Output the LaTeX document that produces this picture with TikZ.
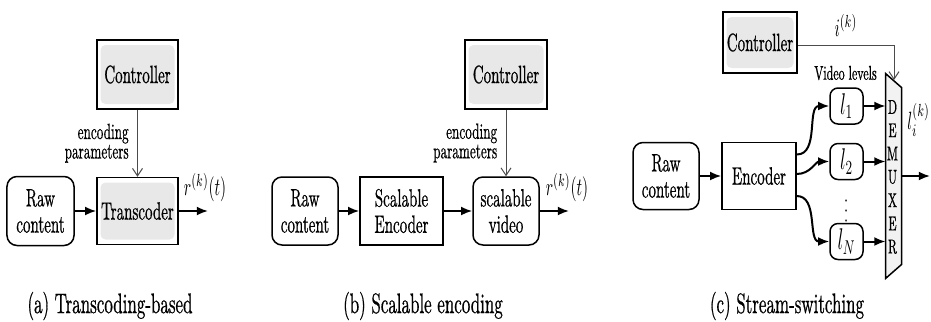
\documentclass[tikz,border=0pt]{standalone}
\usepackage{graphicx}
\usepackage[no-math]{fontspec}
\setmainfont{lmroman10-regular.otf}[FakeStretch=0.6,FakeBold=0.6]
\usetikzlibrary{arrows.meta,calc,positioning}
\newcommand{\nx}[1]{\scalebox{0.62}[1]{$#1$}}

\begin{document}
\begin{tikzpicture}[x=0.4pt,y=-0.4pt,font=\fontsize{10}{10.5}\selectfont,
  blk/.style={draw,line width=0.6pt,inner sep=0pt,align=center},
  rnd/.style={blk,rounded corners=4pt},
  lvl/.style={rnd,rounded corners=3.2pt,minimum width=13.2pt,minimum height=14.4pt,
    font=\fontsize{11.5}{12}\selectfont},
  shd/.style={blk,path picture={\fill[gray!18,rounded corners=2pt]
    ([shift={(1.4pt,-2pt)}]path picture bounding box.north west) rectangle
    ([shift={(-1.4pt,2pt)}]path picture bounding box.south east);}},
  arr/.style={-{Latex[length=4.5pt,width=3.6pt]},line width=0.8pt},
  ctl/.style={-{Straight Barb[length=3pt,width=4pt]},line width=0.4pt,draw=black!70},
  small/.style={font=\fontsize{8.8}{7.8}\selectfont,align=right},
  capt/.style={font=\fontsize{11.3}{12}\selectfont}]
\useasboundingbox (0,0) rectangle (931,321);
\node[shd,minimum width=32.4pt,minimum height=27.6pt] (ctrlA) at (137.5,74.5) {Controller};
\node[shd,minimum width=32.4pt,minimum height=26.8pt] (transA) at (137.5,211) {Transcoder};
\node[rnd,minimum width=26.8pt,minimum height=27.6pt] (rawA) at (40.5,211) {Raw\\content};
\coordinate (outA) at (208,211);
\node[capt] (capA) at (110,306) {(a) Transcoding-based};
\node[rnd,minimum width=26.4pt,minimum height=27.2pt] (rawB) at (305,211) {Raw\\content};
\node[blk,minimum width=33.2pt,minimum height=27.2pt] (encB) at (401.5,211) {Scalable\\Encoder};
\node[rnd,minimum width=26.4pt,minimum height=27.2pt] (vidB) at (506,211) {scalable\\video};
\node[shd,minimum width=32.8pt,minimum height=27.6pt] (ctrlB) at (506,74.5) {Controller};
\coordinate (outB) at (569,211);
\node[capt] (capB) at (423,306) {(b) Scalable encoding};
\node[shd,minimum width=29.6pt,minimum height=24.4pt] (ctrlC) at (760,42.5) {Controller};
\node[rnd,minimum width=26.4pt,minimum height=26.8pt] (rawC) at (666,176) {Raw\\content};
\node[blk,minimum width=29.6pt,minimum height=26.8pt] (encC) at (759,176) {Encoder};
\node[lvl] (l1) at (846.5,106) {\nx{l_1}};
\node[lvl] (l2) at (846.5,161.5) {\nx{l_2}};
\node[lvl] (lN) at (846.5,241.5) {\nx{l_N}};
\node[font=\fontsize{8}{8}\selectfont] (dots) at (846,203) {$\vdots$};
\node[font=\fontsize{8}{8}\selectfont] (lev) at (845.5,73) {Video levels};
\node[inner sep=0pt,minimum width=6pt,minimum height=81.6pt] (dmx) at (893.5,176) {};
\draw[line width=0.6pt,fill=gray!10] (dmx.north west) -- ($(dmx.north east)+(0,14)$)
  -- ($(dmx.south east)+(0,-14)$) -- (dmx.south west) -- cycle;
\foreach \c [count=\i from 0] in {D,E,M,U,X,E,R}
  \node[font=\fontsize{8}{8}\selectfont,inner sep=0pt] (d\i) at (892.5,{107+23.3*\i}) {\c};
\coordinate (dIn) at (894,80);
\coordinate (outC) at (930,176);
\node[capt] (capC) at (787,306) {(c) Stream-switching};
\path[arr]
(rawA) edge (transA)
(transA) edge node[above,pos=0.9]{\nx{r^{(k)}(t)}} (outA)
(rawB) edge (encB)
(encB) edge (vidB)
(vidB) edge node[above,pos=0.93]{\nx{r^{(k)}(t)}} (outB)
(rawC) edge (encC)
([yshift=8.6pt]encC.east) edge[out=0,in=180] (l1)
([yshift=0.8pt]encC.east) edge[out=0,in=180] (l2)
([yshift=-8pt]encC.east) edge[out=0,in=180] (lN)
(l1) edge (l1 -| dmx.west)
(l2) edge (l2 -| dmx.west)
(lN) edge (lN -| dmx.west)
(dmx.east) edge node[above=12pt,pos=0.6]{\nx{l_i^{(k)}}} (outC);
\path[ctl]
(ctrlA) edge node[left,small]{encoding\\parameters} (transA)
(ctrlB) edge node[left,small]{encoding\\parameters} (vidB);
\draw[ctl] ([yshift=-1pt]ctrlC.east) -| node[above,pos=0.25]{\nx{i^{(k)}}} (dIn);
\end{tikzpicture}
\end{document}
